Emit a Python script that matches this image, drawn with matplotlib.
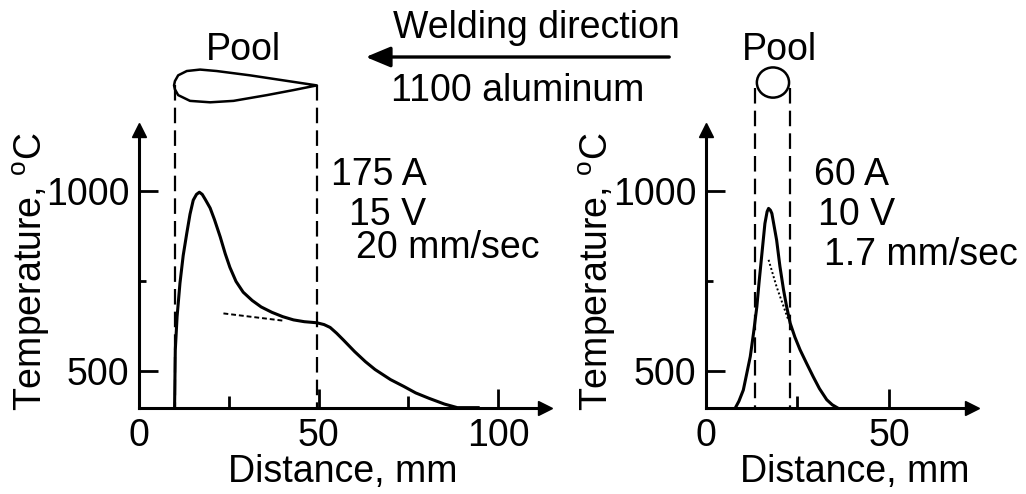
import matplotlib
matplotlib.use("Agg")
import matplotlib.pyplot as plt
from matplotlib.patches import Ellipse, Polygon, FancyArrowPatch

plt.rcParams["font.family"] = ["Liberation Sans", "DejaVu Sans"]
plt.rcParams["mathtext.fontset"] = "custom"
plt.rcParams["mathtext.rm"] = "Liberation Sans"

# --- data --------------------------------------------------------------
# 175 A / 15 V / 20 mm/sec weld (left panel)
left_x = [9.9, 10.1, 10.6, 11.4, 12.3, 13.3, 14.2, 15.1, 16.0, 16.8, 17.6,
          18.5, 19.8, 21.0, 22.6, 24.0, 25.3, 27.0, 29.0, 31.5, 34.0, 37.0,
          40.0, 43.0, 46.0, 49.5, 51.5, 53.2, 55.0, 56.9, 60.0, 63.0, 65.7,
          70.0, 73.7, 77.0, 80.7, 85.0, 88.6, 94.4]
left_temp = [396, 557, 650, 743, 820, 882, 935, 974, 990, 996, 990,
             975, 952, 920, 872, 825, 787, 748, 718, 695, 677, 662,
             650, 641, 636, 633, 628, 620, 604, 585, 553, 525, 503,
             475, 456, 438, 423, 407, 397, 397]
left_tangent_x = [23.5, 40.0]
left_tangent_temp = [659, 639]
left_pool_x = [9.75, 10.0, 10.9, 13.3, 17.0, 21.6, 30.9, 40.2, 49.5,
               43.0, 35.6, 26.3, 19.8, 14.2, 10.9, 10.0]
left_pool_temp = [1293, 1305, 1321, 1333, 1337, 1333, 1321, 1307, 1293,
                  1280, 1266, 1250, 1246, 1250, 1266, 1282]
left_pool_edges = [9.9, 49.6]

# 60 A / 10 V / 1.7 mm/sec weld (right panel)
right_x = [8.0, 9.0, 10.2, 11.0, 12.1, 13.0, 13.9, 14.5, 15.2, 16.1, 16.7,
           17.1, 17.6, 18.0, 19.3, 20.2, 21.2, 22.0, 23.0, 24.3, 25.7, 27.5,
           29.3, 31.0, 33.0, 34.5, 36.0]
right_temp = [396, 415, 446, 485, 539, 605, 678, 745, 817, 909, 942,
              951, 946, 937, 863, 790, 724, 680, 632, 593, 558, 520,
              483, 450, 419, 405, 396]
right_tangent_x = [17.1, 19.3, 22.5]
right_tangent_temp = [808, 733, 641]
right_pool_center = (18.3, 1301)
right_pool_size = (8.8, 84)
right_pool_edges = [13.5, 23.0]

temp_ticks = [500, 1000]
temp_minor = [750]
left_dist_ticks = [0, 50, 100]
left_dist_minor = [25, 75]
right_dist_ticks = [0, 50]
right_dist_minor = [25]

left_labels = ["175 A", "15 V", "20 mm/sec"]
right_labels = ["60 A", "10 V", "1.7 mm/sec"]

W, H = 1026, 494
FS = 27
fig = plt.figure(figsize=(W / 100, H / 100), dpi=100)


def px_axes(left, top, width, height):
    return fig.add_axes([left / W, 1 - (top + height) / H, width / W, height / H])


def style_axes(ax, xmax, xticks, xminor):
    ax.set_xlim(0, xmax)
    ax.set_ylim(396, 1169)
    for s in ("top", "right"):
        ax.spines[s].set_visible(False)
    for s in ("left", "bottom"):
        ax.spines[s].set_linewidth(2.2)
    ax.set_xticks(xticks)
    ax.set_xticks(xminor, minor=True)
    ax.set_yticks(temp_ticks)
    ax.set_yticks(temp_minor, minor=True)
    ax.tick_params(axis="both", which="both", direction="in", width=2,
                   labelsize=FS, pad=7)
    ax.tick_params(axis="x", which="major", length=14)
    ax.tick_params(axis="x", which="minor", length=9)
    ax.tick_params(axis="y", which="major", length=14)
    ax.tick_params(axis="y", which="minor", length=5)
    ax.plot(1, 0, ">k", transform=ax.transAxes, clip_on=False, markersize=10)
    ax.plot(0, 1, "^k", transform=ax.transAxes, clip_on=False, markersize=10)
    ax.set_ylabel("Temperature, $^{\\mathrm{o}}$C", fontsize=FS)
    ax.set_xlabel("Distance, mm", fontsize=FS)


def dashed_edges(ax, xs, top):
    for x in xs:
        ax.plot([x, x], [top, 396], color="k", lw=1.6, dashes=(7, 3.2),
                clip_on=False)


def param_text(ax, xs, ys, labels):
    for x, y, s in zip(xs, ys, labels):
        ax.text(x, y, s, fontsize=FS, ha="left", va="baseline", clip_on=False)


# left panel
ax1 = px_axes(139, 130, 406, 278)
style_axes(ax1, 113, left_dist_ticks, left_dist_minor)
ax1.plot(left_x, left_temp, color="k", lw=2.2, solid_joinstyle="round")
ax1.plot(left_tangent_x, left_tangent_temp, color="k", lw=1.4, dashes=(2.5, 1.5))
dashed_edges(ax1, left_pool_edges, 1293)
ax1.add_patch(Polygon(list(zip(left_pool_x, left_pool_temp)), closed=True,
                      fill=False, lw=1.8, ec="k", joinstyle="round",
                      clip_on=False))
ax1.text(29.0, 1365, "Pool", fontsize=FS, ha="center", va="baseline")
param_text(ax1, [53.5, 58.5, 60.4], [1016, 905, 812], left_labels)
ax1.yaxis.set_label_coords(-0.215, 0.49)
ax1.xaxis.set_label_coords(0.503, -0.165)

# right panel
ax2 = px_axes(706, 130, 266, 278)
style_axes(ax2, 72.7, right_dist_ticks, right_dist_minor)
ax2.plot(right_x, right_temp, color="k", lw=2.2, solid_joinstyle="round")
ax2.plot(right_tangent_x, right_tangent_temp, color="k", lw=1.4, dashes=(1, 1.2))
dashed_edges(ax2, right_pool_edges, 1285)
ax2.add_patch(Ellipse(right_pool_center, *right_pool_size, fill=False, lw=1.8,
                      ec="k", clip_on=False))
ax2.text(20.2, 1365, "Pool", fontsize=FS, ha="center", va="baseline")
param_text(ax2, [29.6, 30.5, 32.3], [1016, 905, 794], right_labels)
ax2.yaxis.set_label_coords(-0.33, 0.49)
ax2.xaxis.set_label_coords(0.561, -0.165)

# welding direction arrow and material
fig.text(393 / W, 1 - 38 / H, "Welding direction", fontsize=FS, va="baseline")
fig.text(391 / W, 1 - 101 / H, "1100 aluminum", fontsize=FS, va="baseline")
fig.add_artist(FancyArrowPatch(
    (672 / W, 1 - 57 / H), (363 / W, 1 - 57 / H), transform=fig.transFigure,
    arrowstyle="-|>,head_length=0.6,head_width=0.25", mutation_scale=25,
    lw=2.4, color="k"))

fig.savefig("out.png", dpi=100)
